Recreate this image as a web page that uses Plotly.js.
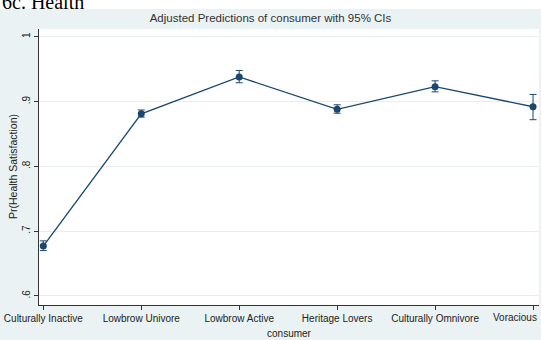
<!DOCTYPE html>
<html>
<head>
<meta charset="utf-8">
<script src="https://cdn.plot.ly/plotly-3.0.1.min.js"></script>
<style>html,body{margin:0;padding:0;background:#fff;}#chart{width:541px;height:340px;}</style>
</head>
<body>
<div id="chart"></div>
<script>
const categories = ["Culturally Inactive", "Lowbrow Univore", "Lowbrow Active", "Heritage Lovers", "Culturally Omnivore", "Voracious"];
const predicted = [0.677, 0.881, 0.938, 0.888, 0.923, 0.892];
const ciLower = [0.670, 0.876, 0.929, 0.882, 0.915, 0.872];
const ciUpper = [0.685, 0.887, 0.948, 0.895, 0.932, 0.911];
const yTickVals = [0.6, 0.7, 0.8, 0.9, 1];
const yTickText = [".6", ".7", ".8", ".9", "1"];

const navy = "#1a476f";
const bg = "#eaf2f3";
const font = "Liberation Sans, Arial, sans-serif";

const trace = {
  x: categories,
  y: predicted,
  type: "scatter",
  mode: "lines+markers",
  line: {color: navy, width: 1.3},
  marker: {color: navy, size: 7, symbol: "circle"},
  error_y: {
    type: "data",
    symmetric: false,
    array: ciUpper.map((u, i) => u - predicted[i]),
    arrayminus: predicted.map((p, i) => p - ciLower[i]),
    color: navy,
    thickness: 1,
    width: 3.5
  },
  hoverinfo: "none"
};

// last label is pulled inward as in the reference
const lastIdx = categories.length - 1;
const tickText = categories.map((c, i) => i === lastIdx ? "" : c);

const layout = {
  width: 541, height: 340,
  margin: {l: 39, r: 2, t: 29, b: 35},
  paper_bgcolor: bg,
  plot_bgcolor: "#ffffff",
  showlegend: false,
  font: {family: font, size: 10, color: "#222"},
  title: {
    text: "Adjusted Predictions of consumer with 95% CIs",
    font: {family: font, size: 11.5, color: "#333"},
    x: 0.5, xanchor: "center",
    y: 1 - 18/340, yanchor: "middle", yref: "container"
  },
  xaxis: {
    type: "category",
    range: [-0.044, 5.061],
    tickmode: "array",
    tickvals: categories,
    ticktext: tickText,
    ticks: "outside", ticklen: 4, tickcolor: "#333", tickwidth: 1,
    showline: true, linecolor: "#333", linewidth: 1,
    showgrid: false, zeroline: false,
    tickfont: {family: font, size: 10, color: "#222"},
    title: {text: "consumer", font: {family: font, size: 10, color: "#222"}, standoff: 6},
    fixedrange: true
  },
  yaxis: {
    range: [0.586, 1.012],
    tickmode: "array",
    tickvals: yTickVals,
    ticktext: yTickText,
    tickangle: -90,
    ticks: "outside", ticklen: 4, tickcolor: "#333", tickwidth: 1,
    showline: true, linecolor: "#333", linewidth: 1,
    showgrid: true, gridcolor: "#e6eef0", gridwidth: 1,
    zeroline: false,
    tickfont: {family: font, size: 10, color: "#222"},
    fixedrange: true
  },
  shapes: [
    {type: "rect", xref: "paper", yref: "paper", x0: -0.1, x1: 1.1, y0: 1.0725, y1: 1.2,
     fillcolor: "#ffffff", line: {width: 0}, layer: "above"}
  ],
  annotations: [
    {text: "6c. Health", xref: "paper", yref: "paper", x: -0.078, y: 1.0725, xanchor: "left", yanchor: "bottom",
     showarrow: false, font: {family: "Liberation Serif, Times New Roman, serif", size: 20, color: "#000"}, yshift: -6},
    {text: "Pr(Health Satisfaction)", xref: "paper", yref: "paper", x: -0.052, y: 0.5, xanchor: "center", yanchor: "middle",
     textangle: -90, showarrow: false, font: {family: font, size: 10.5, color: "#222"}},
    {text: categories[lastIdx], xref: "x", yref: "paper", x: categories[lastIdx], y: 0, xanchor: "right", yanchor: "top",
     xshift: 6, yshift: -5, showarrow: false, font: {family: font, size: 10, color: "#222"}}
  ]
};

Plotly.newPlot("chart", [trace], layout, {displayModeBar: false, staticPlot: true});
</script>
</body>
</html>
